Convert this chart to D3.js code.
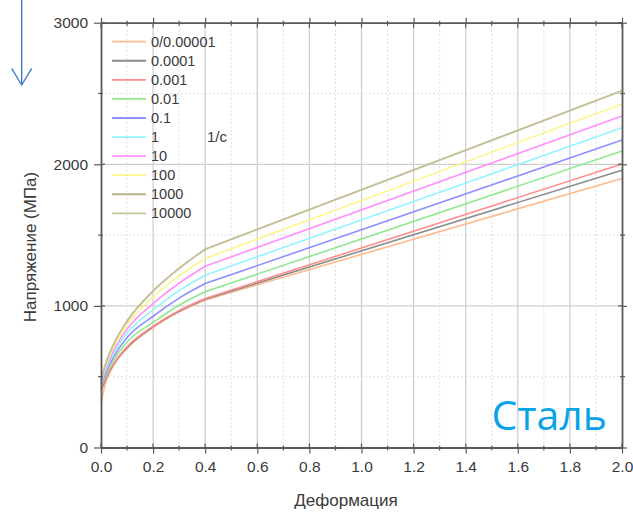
<!DOCTYPE html>
<html><head><meta charset="utf-8">
<script src="https://cdn.jsdelivr.net/npm/d3@7"></script>
<style>body{margin:0;background:#fff}svg{display:block}</style>
</head><body>
<svg id="c" width="633" height="512"></svg>
<script>
// strain points (x)
const strain = [0, 0.02, 0.05, 0.1, 0.2, 0.3, 0.4, 2.0];
// strain-rate labels (legend, 1/c)
const rates = ["0/0.00001","0.0001","0.001","0.01","0.1","1","10","100","1000","10000"];
// stress values (MPa) for each rate
const s_0      = [320, 470, 585, 700, 848, 958, 1042, 1900];
const s_0001   = [400, 492, 592, 705, 852, 962, 1047, 1958];
const s_001    = [420, 502, 598, 712, 857, 968, 1053, 2002];
const s_01     = [435, 520, 622, 745, 883, 1005, 1100, 2094];
const s_1      = [445, 536, 645, 777, 927, 1055, 1158, 2171];
const s_10     = [455, 553, 668, 808, 972, 1108, 1217, 2258];
const s_100    = [465, 568, 690, 835, 1017, 1160, 1280, 2341];
const s_1000   = [475, 585, 712, 865, 1062, 1212, 1335, 2426];
const s_10000a = [480, 603, 735, 892, 1105, 1265, 1400, 2520];
const s_10000  = [480, 603, 735, 892, 1105, 1265, 1400, 2520];
const seriesValues = [s_0, s_0001, s_001, s_01, s_1, s_10, s_100, s_1000, s_10000a, s_10000];
const colors = ["#ffb98a","#8c8c8c","#ff8f8f","#8fe88f","#8f8fff","#94f4ff","#ff8fff","#fbf58c","#b9b58a","#c6c29a"];
const xTicks = [0,0.2,0.4,0.6,0.8,1.0,1.2,1.4,1.6,1.8,2.0];
const yTicks = [0,1000,2000,3000];

const svg = d3.select("#c");
const x = d3.scaleLinear().domain([0,2]).range([101,622]);
const y = d3.scaleLinear().domain([0,3000]).range([447.5,22.7]);
const font = "'Liberation Sans', Arial, sans-serif";
const txt = "#3a3a3a";

// grid
const g = svg.append("g");
const minorX = d3.range(1,20,2).map(d=>d/10);
const minorY = [500,1500,2500];
g.selectAll(".mx").data(minorX).join("line")
 .attr("x1",d=>x(d)).attr("x2",d=>x(d)).attr("y1",y(0)).attr("y2",y(3000))
 .attr("stroke","#d6d6d6").attr("stroke-width",1).attr("stroke-dasharray","1.5,2.5");
g.selectAll(".my").data(minorY).join("line")
 .attr("y1",d=>y(d)).attr("y2",d=>y(d)).attr("x1",x(0)).attr("x2",x(2))
 .attr("stroke","#d6d6d6").attr("stroke-width",1).attr("stroke-dasharray","1.5,2.5");
g.selectAll(".Mx").data(xTicks.slice(1,-1)).join("line")
 .attr("x1",d=>x(d)).attr("x2",d=>x(d)).attr("y1",y(0)).attr("y2",y(3000))
 .attr("stroke","#cfcfcf").attr("stroke-width",1.3);
g.selectAll(".My").data([1000,2000]).join("line")
 .attr("y1",d=>y(d)).attr("y2",d=>y(d)).attr("x1",x(0)).attr("x2",x(2))
 .attr("stroke","#cfcfcf").attr("stroke-width",1.3);

// curves: smooth up to 0.4, straight afterwards
const kneeIdx = strain.indexOf(0.4);
const curveLine = d3.line().x((d,i)=>x(strain[i])).y(d=>y(d)).curve(d3.curveMonotoneX);
function pathFor(vals){
  const head = curveLine(vals.slice(0,kneeIdx+1));
  let tail = "";
  for(let i=kneeIdx+1;i<vals.length;i++) tail += "L"+x(strain[i])+","+y(vals[i]);
  return head + tail;
}
svg.append("g").selectAll("path").data(seriesValues).join("path")
 .attr("d",d=>pathFor(d)).attr("fill","none")
 .attr("stroke",(d,i)=>colors[i]).attr("stroke-width",1.6).attr("stroke-linejoin","round");

// axes
const axCol = "#595959";
function styleAxis(sel){
  sel.select(".domain").attr("stroke",axCol).attr("stroke-width",1.8);
  sel.selectAll(".tick line").attr("stroke",axCol).attr("stroke-width",1.2);
  sel.selectAll(".tick text").attr("fill",txt).style("font-family",font).style("font-size","15.5px");
}
const xMinorAll = d3.range(1,20,2).map(d=>d/10);
const yMinorAll = [500,1500,2500];

const bx = svg.append("g").attr("transform",`translate(0,${y(0)})`)
 .call(d3.axisBottom(x).tickValues(xTicks).tickFormat(d3.format(".1f")).tickSizeOuter(0).tickSizeInner(6).tickPadding(7));
styleAxis(bx);
const tx = svg.append("g").attr("transform",`translate(0,${y(3000)})`)
 .call(d3.axisTop(x).tickValues(xTicks).tickFormat("").tickSizeOuter(0).tickSizeInner(5));
styleAxis(tx);
const ly = svg.append("g").attr("transform",`translate(${x(0)},0)`)
 .call(d3.axisLeft(y).tickValues(yTicks).tickFormat(d3.format("d")).tickSizeOuter(0).tickSizeInner(7).tickPadding(6));
styleAxis(ly);
const ry = svg.append("g").attr("transform",`translate(${x(2)},0)`)
 .call(d3.axisRight(y).tickValues(yTicks).tickFormat("").tickSizeOuter(0).tickSizeInner(5));
styleAxis(ry);

const tk = svg.append("g").attr("stroke",axCol).attr("stroke-width",1.2);
xTicks.forEach(d=>{
  tk.append("line").attr("x1",x(d)).attr("x2",x(d)).attr("y1",y(0)).attr("y2",y(0)-4);
  tk.append("line").attr("x1",x(d)).attr("x2",x(d)).attr("y1",y(3000)).attr("y2",y(3000)+5);
});
xMinorAll.forEach(d=>{
  tk.append("line").attr("x1",x(d)).attr("x2",x(d)).attr("y1",y(0)-2).attr("y2",y(0)+3);
  tk.append("line").attr("x1",x(d)).attr("x2",x(d)).attr("y1",y(3000)-2).attr("y2",y(3000)+3);
});
yTicks.forEach(d=>{
  tk.append("line").attr("x1",x(0)).attr("x2",x(0)+4).attr("y1",y(d)).attr("y2",y(d));
  tk.append("line").attr("x1",x(2)).attr("x2",x(2)-4).attr("y1",y(d)).attr("y2",y(d));
});
yMinorAll.forEach(d=>{
  tk.append("line").attr("x1",x(0)-3).attr("x2",x(0)+2).attr("y1",y(d)).attr("y2",y(d));
  tk.append("line").attr("x1",x(2)-2).attr("x2",x(2)+3).attr("y1",y(d)).attr("y2",y(d));
});

// axis titles
svg.append("text").attr("x",346).attr("y",506).attr("text-anchor","middle")
 .attr("fill",txt).style("font-family",font).style("font-size","17px").text("Деформация");
svg.append("text").attr("transform","translate(36,247) rotate(-90)").attr("text-anchor","middle")
 .attr("fill",txt).style("font-family",font).style("font-size","17px").text("Напряжение (МПа)");

// legend
const lg = svg.append("g");
rates.forEach((r,i)=>{
  const yy = 41.7 + i*19.07;
  lg.append("line").attr("x1",112).attr("x2",146).attr("y1",yy).attr("y2",yy)
    .attr("stroke",colors[i]).attr("stroke-width",1.8);
  lg.append("text").attr("x",151).attr("y",yy+5).attr("fill",txt)
    .style("font-family",font).style("font-size","14.5px").text(r);
});
lg.append("text").attr("x",207).attr("y",142).attr("fill",txt)
  .style("font-family",font).style("font-size","15px").text("1/с");

// "Сталь"
svg.append("text").attr("x",607).attr("y",430).attr("text-anchor","end")
 .attr("fill","#0aa3e6").style("font-family","'Open Sans', 'Noto Sans', sans-serif").style("font-size","41px").text("Сталь");

// arrow
const ar = svg.append("g").attr("stroke","#4a7ebf").attr("stroke-width",1.4).attr("fill","none");
ar.append("line").attr("x1",21.7).attr("x2",21.7).attr("y1",0).attr("y2",85);
ar.append("polyline").attr("points","11.7,68.3 21.7,85 31.7,68.3");
</script>
</body></html>
